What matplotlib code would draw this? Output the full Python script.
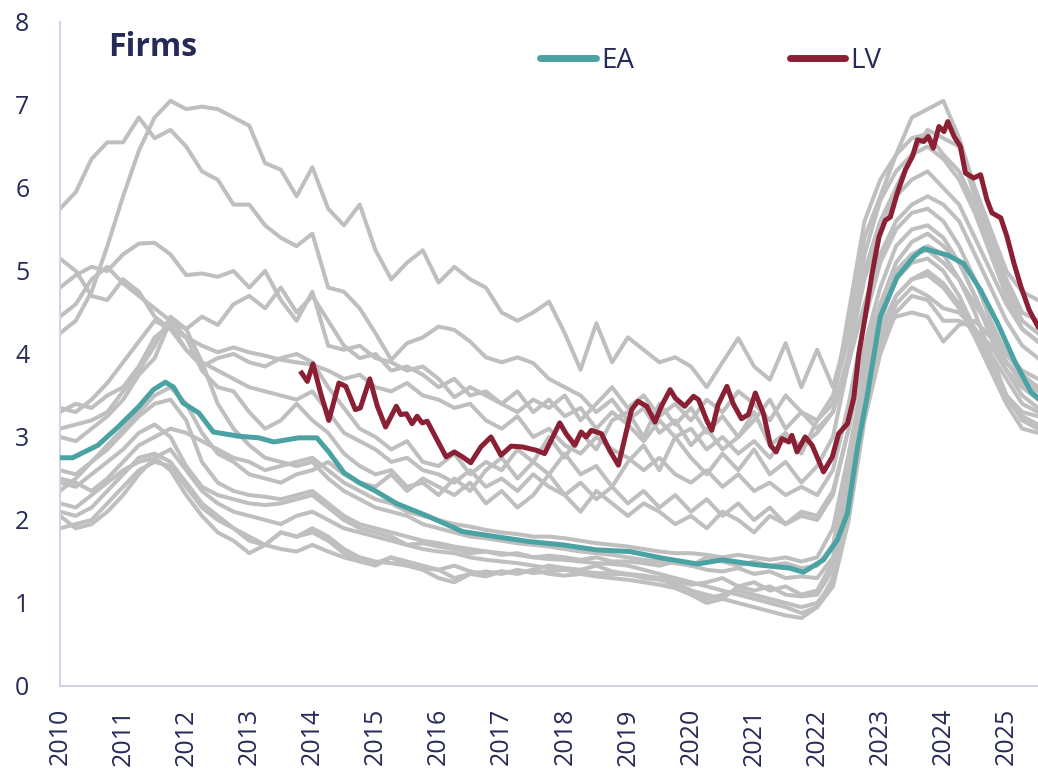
import numpy as np
import matplotlib
matplotlib.use("Agg")
import matplotlib.pyplot as plt
from matplotlib.lines import Line2D

plt.rcParams['font.family'] = ['Open Sans', 'DejaVu Sans']

NAVY = '#262a56'
GREY = '#bfbfbf'
TEAL = '#4aa3a2'
WINE = '#8b1f33'

# quarterly dates for the country lines (decimal years)
quarters = np.arange(2010, 2025.51, 0.25)

# other euro area countries (grey), one value per quarter
grey_1 = [4.25, 4.40, 4.75, 5.30, 5.90, 6.45, 6.85, 7.05, 6.95, 6.98, 6.95, 6.85, 6.75, 6.30, 6.22, 5.90,
          6.25, 5.75, 5.55, 5.80, 5.25, 4.90, 5.10, 5.25, 4.86, 5.05, 4.90, 4.80, 4.50, 4.40, 4.50, 4.63,
          4.25, 3.81, 4.37, 3.90, 4.20, 4.05, 3.90, 3.96, 3.85, 3.60, 3.90, 4.19, 3.85, 3.69, 4.13, 3.60,
          4.05, 3.60, 4.30, 5.40, 5.90, 6.40, 6.85, 6.95, 7.05, 6.60, 6.00, 5.50, 5.00, 4.75, 4.65]
grey_2 = [5.75, 5.95, 6.35, 6.55, 6.55, 6.85, 6.60, 6.70, 6.50, 6.20, 6.10, 5.80, 5.80, 5.55, 5.40, 5.30,
          5.45, 4.80, 4.75, 4.55, 4.25, 3.93, 4.13, 4.20, 4.33, 4.29, 4.15, 3.96, 3.90, 3.96, 3.89, 3.70,
          3.60, 3.50, 3.30, 3.45, 3.20, 3.35, 3.05, 3.20, 2.90, 3.10, 2.85, 3.00, 3.30, 2.90, 3.05, 2.80,
          3.20, 3.50, 4.20, 5.00, 5.60, 6.00, 6.40, 6.70, 6.60, 6.50, 5.90, 5.40, 4.90, 4.50, 4.40]
grey_3 = [4.80, 4.95, 5.05, 5.00, 5.20, 5.33, 5.34, 5.20, 4.95, 4.97, 4.93, 5.00, 4.80, 5.00, 4.65, 4.40,
          4.75, 4.10, 4.05, 4.10, 3.95, 3.90, 3.80, 3.85, 3.70, 3.48, 3.60, 3.50, 3.40, 3.55, 3.30, 3.45,
          3.25, 3.35, 3.10, 3.30, 3.15, 2.95, 3.20, 3.00, 3.10, 2.85, 3.00, 2.80, 2.95, 2.75, 3.00, 2.90,
          3.05, 3.30, 4.00, 4.90, 5.50, 5.90, 6.10, 6.20, 6.00, 5.80, 5.40, 5.00, 4.60, 4.30, 4.15]
grey_4 = [5.15, 5.00, 4.70, 4.65, 4.90, 4.75, 4.45, 4.30, 4.20, 4.10, 4.02, 4.08, 4.02, 3.98, 3.93, 3.90,
          3.87, 3.80, 3.70, 3.75, 3.60, 3.55, 3.65, 3.50, 3.45, 3.35, 3.40, 3.20, 3.10, 3.25, 3.00, 3.10,
          2.90, 2.80, 3.00, 2.85, 2.75, 2.60, 2.75, 2.55, 2.45, 2.60, 2.40, 2.55, 2.35, 2.45, 2.30, 2.40,
          2.30, 2.60, 3.40, 4.40, 5.10, 5.50, 5.70, 5.75, 5.60, 5.30, 4.90, 4.40, 4.00, 3.75, 3.60]
grey_5 = [4.45, 4.60, 4.90, 5.05, 4.85, 4.70, 4.55, 4.40, 4.30, 4.45, 4.35, 4.60, 4.70, 4.55, 4.80, 4.50,
          4.70, 4.40, 4.10, 3.95, 4.00, 3.80, 3.85, 3.75, 3.60, 3.70, 3.50, 3.55, 3.40, 3.30, 3.45, 3.35,
          3.50, 3.20, 3.40, 3.60, 3.35, 3.50, 3.25, 3.40, 3.20, 3.45, 3.30, 3.55, 3.40, 3.20, 3.50, 3.30,
          3.10, 3.30, 3.90, 4.60, 5.20, 5.60, 5.80, 5.90, 5.80, 5.60, 5.20, 4.80, 4.40, 4.10, 3.95]
grey_6 = [3.35, 3.30, 3.45, 3.65, 3.90, 4.15, 4.40, 4.30, 4.05, 3.90, 3.80, 3.70, 3.60, 3.55, 3.50, 3.45,
          3.55, 3.30, 3.05, 2.95, 2.85, 2.70, 2.75, 2.60, 2.55, 2.45, 2.60, 2.40, 2.50, 2.35, 2.55, 2.40,
          2.30, 2.45, 2.25, 2.40, 2.20, 2.35, 2.15, 2.30, 2.10, 2.25, 2.05, 2.20, 2.00, 2.15, 1.95, 2.05,
          2.00, 2.30, 3.10, 4.10, 4.80, 5.30, 5.50, 5.55, 5.40, 5.10, 4.70, 4.20, 3.80, 3.50, 3.35]
grey_7 = [3.10, 3.15, 3.20, 3.30, 3.55, 3.80, 4.10, 4.45, 4.30, 3.90, 3.40, 3.10, 2.90, 2.75, 2.70, 2.65,
          2.70, 2.50, 2.35, 2.25, 2.15, 2.10, 2.05, 1.95, 1.90, 1.85, 1.80, 1.78, 1.75, 1.72, 1.70, 1.68,
          1.65, 1.62, 1.60, 1.58, 1.55, 1.52, 1.50, 1.48, 1.45, 1.40, 1.38, 1.42, 1.35, 1.38, 1.30, 1.32,
          1.30, 1.55, 2.50, 3.70, 4.50, 5.00, 5.20, 5.25, 5.10, 4.90, 4.50, 4.00, 3.50, 3.20, 3.10]
grey_8 = [2.60, 2.55, 2.70, 2.85, 3.05, 3.25, 3.40, 3.45, 3.20, 2.70, 2.45, 2.35, 2.30, 2.28, 2.25, 2.30,
          2.35, 2.20, 2.05, 1.95, 1.90, 1.85, 1.80, 1.75, 1.72, 1.68, 1.65, 1.62, 1.60, 1.58, 1.55, 1.53,
          1.52, 1.50, 1.48, 1.47, 1.45, 1.40, 1.35, 1.30, 1.25, 1.20, 1.15, 1.10, 1.05, 1.00, 0.95, 0.88,
          0.95, 1.30, 2.30, 3.50, 4.30, 4.70, 4.90, 4.95, 4.80, 4.55, 4.20, 3.80, 3.40, 3.10, 3.05]
grey_9 = [2.45, 2.40, 2.55, 2.70, 2.85, 3.05, 3.15, 3.00, 2.65, 2.40, 2.30, 2.25, 2.20, 2.18, 2.20, 2.25,
          2.30, 2.15, 2.00, 1.90, 1.85, 1.80, 1.70, 1.65, 1.62, 1.60, 1.55, 1.52, 1.50, 1.48, 1.45, 1.42,
          1.40, 1.38, 1.36, 1.35, 1.35, 1.33, 1.30, 1.25, 1.15, 1.10, 1.05, 1.20, 1.25, 1.15, 1.20, 1.10,
          1.15, 1.50, 2.40, 3.60, 4.40, 4.90, 5.10, 5.15, 5.00, 4.70, 4.30, 3.90, 3.50, 3.30, 3.25]
grey_10 = [2.20, 2.15, 2.30, 2.45, 2.60, 2.70, 2.75, 2.85, 2.60, 2.35, 2.20, 2.10, 2.05, 2.00, 1.95, 2.05,
           2.10, 2.00, 1.90, 1.85, 1.80, 1.75, 1.70, 1.72, 1.68, 1.65, 1.60, 1.62, 1.58, 1.60, 1.55, 1.57,
           1.55, 1.52, 1.55, 1.50, 1.50, 1.48, 1.45, 1.50, 1.45, 1.55, 1.50, 1.45, 1.50, 1.45, 1.48, 1.42,
           1.45, 1.70, 2.60, 3.80, 4.60, 5.10, 5.35, 5.45, 5.30, 5.10, 4.70, 4.30, 3.90, 3.65, 3.55]
grey_11 = [2.10, 2.05, 2.15, 2.35, 2.55, 2.75, 2.80, 2.70, 2.45, 2.20, 2.05, 1.90, 1.75, 1.70, 1.85, 1.80,
           1.90, 1.80, 1.65, 1.55, 1.50, 1.48, 1.45, 1.42, 1.40, 1.45, 1.38, 1.35, 1.38, 1.36, 1.40, 1.35,
           1.33, 1.35, 1.32, 1.30, 1.28, 1.25, 1.22, 1.18, 1.10, 1.00, 1.05, 1.00, 0.95, 0.90, 0.85, 0.82,
           0.95, 1.20, 2.00, 3.20, 4.00, 4.50, 4.70, 4.65, 4.40, 4.40, 4.30, 4.10, 3.80, 3.60, 3.45]
grey_12 = [1.90, 1.95, 2.00, 2.20, 2.40, 2.60, 2.70, 2.65, 2.40, 2.15, 2.00, 1.90, 1.80, 1.70, 1.65, 1.62,
           1.70, 1.62, 1.55, 1.50, 1.45, 1.55, 1.50, 1.45, 1.40, 1.30, 1.35, 1.38, 1.35, 1.40, 1.36, 1.38,
           1.40, 1.37, 1.35, 1.36, 1.34, 1.32, 1.30, 1.28, 1.22, 1.25, 1.30, 1.20, 1.15, 1.20, 1.10, 1.08,
           1.10, 1.40, 2.20, 3.40, 4.20, 4.70, 4.90, 5.00, 4.85, 4.60, 4.25, 3.85, 3.45, 3.25, 3.15]
grey_13 = [2.35, 2.50, 2.70, 2.90, 3.10, 3.30, 3.50, 3.60, 3.40, 3.05, 2.80, 2.70, 2.55, 2.50, 2.45, 2.55,
           2.60, 2.70, 2.55, 2.45, 2.40, 2.55, 2.35, 2.50, 2.40, 2.30, 2.45, 2.20, 2.35, 2.15, 2.30, 2.55,
           2.30, 2.10, 2.35, 2.20, 2.05, 2.20, 2.10, 1.95, 2.05, 1.90, 2.10, 2.00, 1.85, 2.05, 1.95, 2.10,
           2.05, 2.35, 3.10, 4.00, 4.60, 5.00, 5.20, 5.30, 5.20, 4.90, 4.60, 4.30, 4.00, 3.80, 3.70]
grey_14 = [3.00, 2.95, 3.10, 3.25, 3.45, 3.75, 3.95, 4.40, 4.20, 3.80, 3.60, 3.55, 3.30, 3.10, 3.20, 3.40,
           3.20, 3.05, 2.80, 2.65, 2.55, 2.60, 2.40, 2.45, 2.30, 2.50, 2.35, 2.60, 2.75, 2.50, 2.70, 2.55,
           2.80, 2.55, 2.65, 2.40, 2.70, 2.90, 2.60, 3.00, 2.75, 2.55, 2.80, 2.60, 2.85, 2.55, 2.70, 2.45,
           2.65, 3.00, 3.90, 5.20, 5.85, 6.20, 6.40, 6.50, 6.35, 6.10, 5.70, 5.20, 4.70, 4.30, 4.15]
grey_15 = [2.50, 2.45, 2.35, 2.50, 2.70, 2.90, 3.00, 3.10, 3.05, 2.95, 2.85, 2.75, 2.70, 2.60, 2.65, 2.70,
           2.75, 2.60, 2.45, 2.35, 2.25, 2.20, 2.10, 2.05, 2.00, 1.95, 1.92, 1.88, 1.85, 1.83, 1.80, 1.80,
           1.78, 1.75, 1.72, 1.70, 1.68, 1.65, 1.62, 1.60, 1.60, 1.58, 1.55, 1.58, 1.55, 1.52, 1.55, 1.50,
           1.55, 1.90, 2.80, 3.80, 4.30, 4.45, 4.50, 4.45, 4.15, 4.35, 4.40, 4.20, 3.90, 3.70, 3.60]
grey_16 = [2.05, 1.90, 1.95, 2.10, 2.30, 2.55, 2.75, 2.60, 2.30, 2.05, 1.85, 1.75, 1.60, 1.70, 1.85, 1.80,
           1.85, 1.75, 1.60, 1.50, 1.48, 1.55, 1.45, 1.40, 1.30, 1.25, 1.35, 1.32, 1.38, 1.35, 1.40, 1.45,
           1.42, 1.40, 1.45, 1.38, 1.35, 1.30, 1.28, 1.22, 1.15, 1.05, 1.10, 1.15, 1.10, 1.05, 1.00, 0.95,
           1.00, 1.25, 2.10, 3.30, 4.10, 4.60, 4.80, 4.70, 4.55, 4.50, 4.30, 4.00, 3.70, 3.40, 3.30]
grey_17 = [3.30, 3.40, 3.35, 3.50, 3.60, 3.85, 4.20, 4.35, 4.05, 3.85, 3.95, 4.00, 3.90, 3.85, 3.95, 4.00,
           3.90, 3.60, 3.35, 3.10, 3.00, 2.85, 2.95, 2.70, 2.65, 2.80, 2.55, 2.70, 2.60, 2.85, 2.70, 3.00,
           2.75, 3.05, 2.85, 3.20, 3.30, 3.00, 3.40, 3.15, 3.35, 3.05, 3.25, 3.00, 3.20, 3.45, 3.10, 3.30,
           3.20, 3.40, 4.50, 5.60, 6.10, 6.40, 6.60, 6.65, 6.40, 6.20, 5.80, 5.30, 4.80, 4.40, 4.25]
grey_lines = [grey_1, grey_2, grey_3, grey_4, grey_5, grey_6, grey_7, grey_8, grey_9,
              grey_10, grey_11, grey_12, grey_13, grey_14, grey_15, grey_16, grey_17]

# euro area aggregate
ea_dates = [2010.0, 2010.2, 2010.6, 2010.92, 2011.24, 2011.48, 2011.67, 2011.8, 2011.95, 2012.2,
            2012.43, 2012.83, 2013.15, 2013.39, 2013.78, 2014.07, 2014.26, 2014.5, 2014.74, 2015.0,
            2015.33, 2015.85, 2016.38, 2016.9, 2017.44, 2017.97, 2018.5, 2019.03, 2019.55, 2020.1,
            2020.5, 2021.05, 2021.57, 2021.78, 2022.1, 2022.32, 2022.48, 2022.64, 2022.79, 2023.0,
            2023.27, 2023.53, 2023.69, 2024.07, 2024.32, 2024.59, 2024.86, 2025.12, 2025.39, 2025.5]
ea_values = [2.75, 2.75, 2.90, 3.12, 3.36, 3.57, 3.66, 3.60, 3.41, 3.29,
             3.06, 3.01, 2.99, 2.94, 2.99, 2.99, 2.82, 2.57, 2.45, 2.35,
             2.20, 2.04, 1.86, 1.80, 1.74, 1.70, 1.64, 1.62, 1.54, 1.47,
             1.52, 1.46, 1.42, 1.37, 1.52, 1.76, 2.08, 2.88, 3.48, 4.45,
             4.93, 5.17, 5.27, 5.19, 5.09, 4.77, 4.37, 3.93, 3.54, 3.47]

# Latvia
lv_dates = [2013.83, 2013.92, 2014.01, 2014.13, 2014.26, 2014.42, 2014.53, 2014.68, 2014.76, 2014.91,
            2015.03, 2015.16, 2015.33, 2015.40, 2015.49, 2015.58, 2015.66, 2015.74, 2015.82, 2015.98,
            2016.12, 2016.25, 2016.38, 2016.51, 2016.67, 2016.83, 2016.99, 2017.15, 2017.33, 2017.55,
            2017.68, 2017.92, 2018.02, 2018.16, 2018.26, 2018.34, 2018.42, 2018.58, 2018.71, 2018.85,
            2018.98, 2019.06, 2019.16, 2019.30, 2019.43, 2019.53, 2019.67, 2019.75, 2019.90, 2020.04,
            2020.12, 2020.25, 2020.33, 2020.43, 2020.57, 2020.67, 2020.80, 2020.91, 2021.02, 2021.15,
            2021.26, 2021.35, 2021.44, 2021.55, 2021.60, 2021.68, 2021.81, 2021.92, 2022.10, 2022.24,
            2022.34, 2022.48, 2022.58, 2022.66, 2022.77, 2022.87, 2022.98, 2023.08, 2023.16, 2023.27,
            2023.40, 2023.51, 2023.59, 2023.69, 2023.76, 2023.84, 2023.93, 2024.01, 2024.07, 2024.17,
            2024.27, 2024.35, 2024.48, 2024.59, 2024.69, 2024.77, 2024.91, 2025.01, 2025.12, 2025.23,
            2025.36, 2025.50]
lv_values = [3.77, 3.67, 3.88, 3.53, 3.20, 3.65, 3.61, 3.33, 3.35, 3.70,
             3.37, 3.12, 3.37, 3.27, 3.28, 3.16, 3.25, 3.17, 3.19, 2.96,
             2.76, 2.82, 2.76, 2.69, 2.88, 3.00, 2.78, 2.89, 2.88, 2.84,
             2.80, 3.17, 3.04, 2.90, 3.06, 3.00, 3.08, 3.04, 2.84, 2.66,
             3.08, 3.33, 3.43, 3.37, 3.18, 3.37, 3.57, 3.47, 3.37, 3.49,
             3.45, 3.20, 3.08, 3.39, 3.61, 3.40, 3.22, 3.27, 3.53, 3.28,
             2.90, 2.82, 2.98, 2.94, 3.02, 2.82, 3.00, 2.90, 2.58, 2.76,
             3.04, 3.16, 3.47, 4.00, 4.49, 4.97, 5.41, 5.61, 5.65, 5.94,
             6.22, 6.38, 6.58, 6.56, 6.62, 6.48, 6.74, 6.68, 6.80, 6.62,
             6.50, 6.18, 6.12, 6.16, 5.86, 5.70, 5.64, 5.41, 5.09, 4.81,
             4.53, 4.33]

year_ticks = list(range(2010, 2026))

fig = plt.figure(figsize=(10.38, 7.74), dpi=100)
ax = fig.add_axes([0.0578, 0.1137, 0.9422, 0.8579])

for g in grey_lines:
    ax.plot(quarters, g, color=GREY, lw=2.9, solid_joinstyle='round', zorder=2)
ax.plot(ea_dates, ea_values, color=TEAL, lw=3.6, solid_joinstyle='round', zorder=3)
ax.plot(lv_dates, lv_values, color=WINE, lw=3.6, solid_joinstyle='round', zorder=4)

ax.set_xlim(2010, 2025.5)
ax.set_ylim(0, 8)
ax.set_xticks(year_ticks)
ax.set_xticklabels([str(y) for y in year_ticks], rotation=90, fontsize=18, color=NAVY)
ax.set_yticks(range(0, 9))
ax.set_yticklabels([str(v) for v in range(0, 9)], fontsize=18, color=NAVY)
ax.tick_params(axis='x', length=0, pad=16)
ax.tick_params(axis='y', length=0, pad=22)

for side in ['top', 'right']:
    ax.spines[side].set_visible(False)
for side in ['left', 'bottom']:
    ax.spines[side].set_color('#d3d3e3')
    ax.spines[side].set_linewidth(1.5)

ax.text(0.049, 0.961, 'Firms', transform=ax.transAxes, fontsize=23, fontweight='bold',
        color=NAVY, ha='left', va='center')

handles = [Line2D([], [], color=TEAL, lw=5, solid_capstyle='round'),
           Line2D([], [], color=WINE, lw=5, solid_capstyle='round')]
leg = ax.legend(handles, ['EA', 'LV'], ncol=2, frameon=False, fontsize=20,
                loc='center left', bbox_to_anchor=(0.4908, 0.941), borderaxespad=0,
                borderpad=0, handlelength=2.0, handletextpad=0.2, columnspacing=5.6)
for t in leg.get_texts():
    t.set_color(NAVY)

fig.savefig('out.png', dpi=100)
